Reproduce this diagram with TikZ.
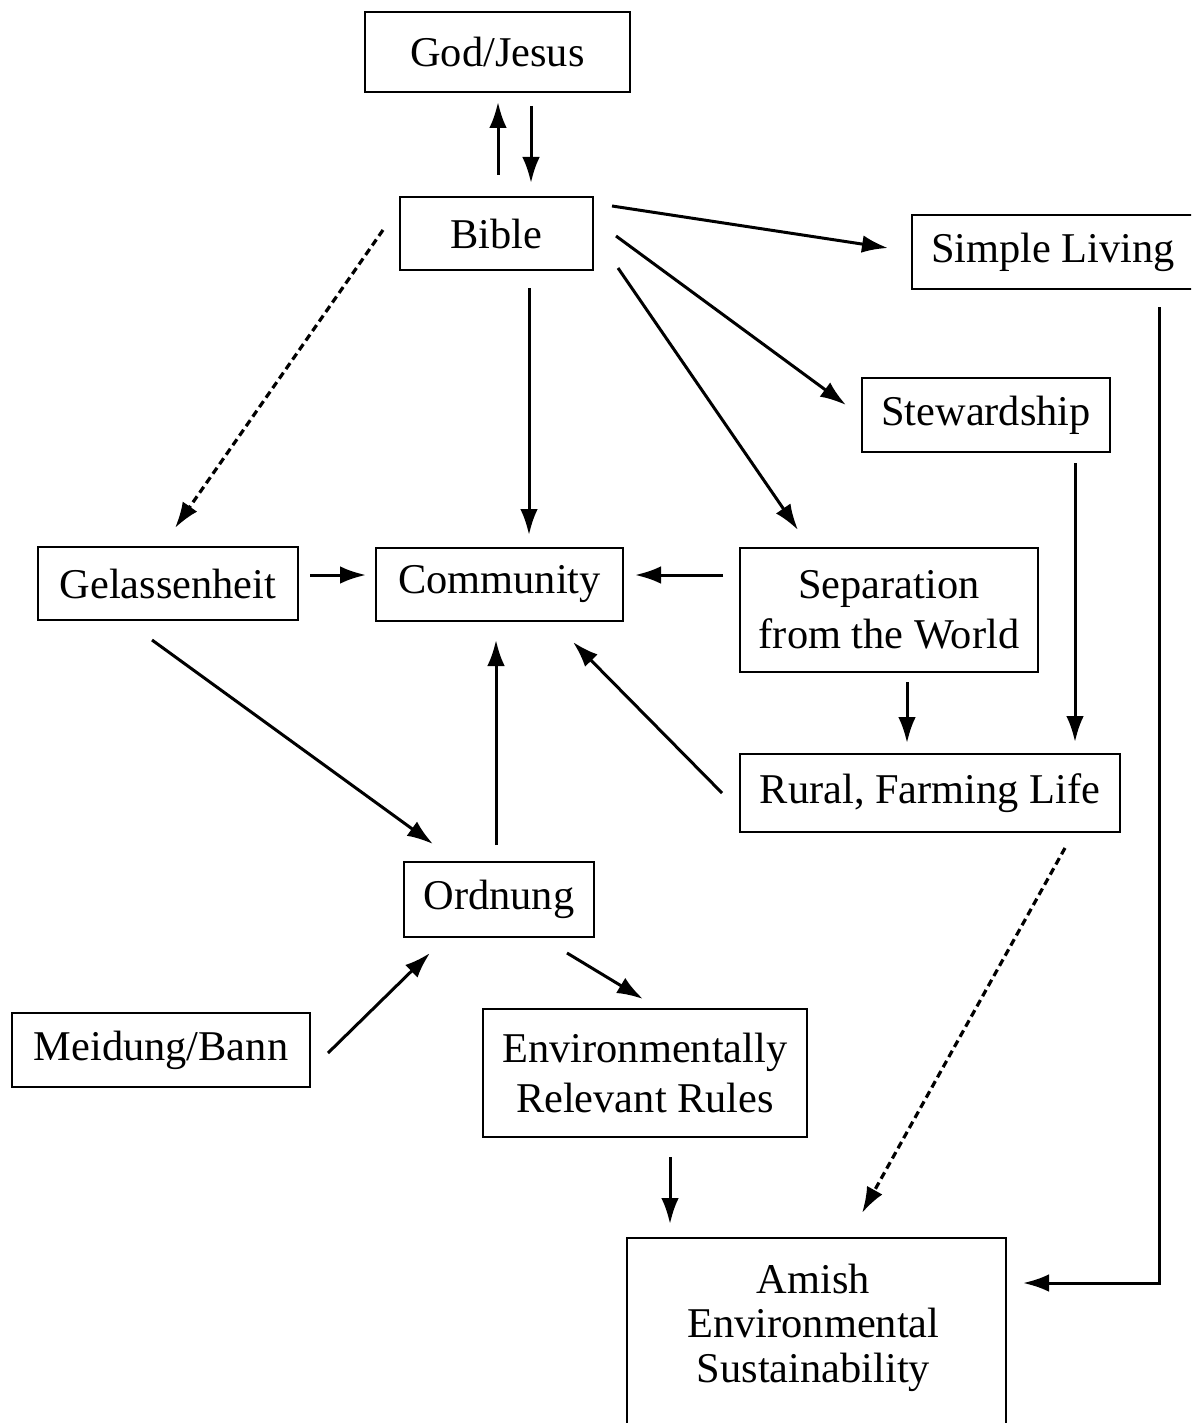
\documentclass[tikz,border=0pt]{standalone}
\usepackage{fontspec}
\setmainfont{Liberation Serif}
\usetikzlibrary{calc,arrows.meta}
\begin{document}
\begin{tikzpicture}[x=0.25pt,y=-0.25pt,
  box/.style={draw, line width=0.55pt, inner sep=0pt, align=center, font=\fontsize{10.6}{12.5}\selectfont},
  arr/.style={line width=0.75pt, -{Latex[length=6.5pt,width=4.4pt]}},
  darr/.style={arr, line width=0.8pt, dash pattern=on 1.8pt off 1.1pt}]
\useasboundingbox (0,0) rectangle (1191,1423);
\clip (0,0) rectangle (1191,1423);
\fill[white] (0,0) rectangle (1191,1423);

\node[box, minimum width=66.25pt, minimum height=20pt] (god) at (497.5,52) {God/Jesus};
\node[box, minimum width=48.25pt, minimum height=18.25pt] (bible) at (496.5,233.5) {Bible};
\node[box, minimum width=70.5pt, minimum height=18.5pt] (simple) at (1053,252) {Simple Living};
\node[box, minimum width=62pt, minimum height=18.5pt] (steward) at (986,415) {Stewardship};
\node[box, minimum width=65pt, minimum height=18.25pt] (gel) at (168,583.5) {Gelassenheit};
\node[box, minimum width=61.75pt, minimum height=18.25pt] (comm) at (499.5,584.5) {Community};
\node[box, minimum width=74.5pt, minimum height=31pt] (sep) at (889,610) {Separation\\from the World};
\node[box, minimum width=95pt, minimum height=19.5pt] (rural) at (930,793) {Rural, Farming Life};
\node[box, minimum width=47.5pt, minimum height=18.75pt] (ord) at (499,899.5) {Ordnung};
\node[box, minimum width=74.5pt, minimum height=18.5pt] (meid) at (161,1050) {Meidung/Bann};
\node[box, minimum width=81pt, minimum height=32pt] (env) at (645,1073) {Environmentally\\Relevant Rules};
\node[draw, line width=0.55pt, inner sep=0pt, minimum width=94.75pt, minimum height=60pt, anchor=north] (amish) at (816.5,1237) {};
\node[anchor=base, inner sep=0pt, align=center, font=\fontsize{10.6}{11.1}\selectfont] (amishtext) at ($(amish.north)+(-3,145)$) {Amish\\Environmental\\Sustainability};

\draw[arr] ($(bible)+(1.5,-58.5)$) -- ($(god)+(0.5,50)$);
\draw[arr] ($(god)+(33.5,54)$) -- ($(bible)+(34.5,-50.5)$);
\draw[arr] ($(bible)+(115.5,-27.5)$) -- ($(simple)+(-165,-4)$);
\draw[arr] ($(bible)+(119.5,2.5)$) -- ($(steward)+(-140,-10)$);
\draw[arr] ($(bible)+(121.5,34.5)$) -- ($(sep)+(-91,-80)$);
\draw[arr] ($(bible)+(32.5,54.5)$) -- ($(comm)+(29.5,-49.5)$);
\draw[darr] ($(bible)+(-113.5,-3.5)$) -- ($(gel)+(7,-55.5)$);
\draw[arr] ($(gel)+(142,-8.5)$) -- ($(comm)+(-133.5,-9.5)$);
\draw[arr] ($(sep)+(-166,-35)$) -- ($(comm)+(135.5,-9.5)$);
\draw[arr] ($(sep)+(18,72)$) -- ($(rural)+(-23,-50)$);
\draw[arr] ($(steward)+(89,48)$) -- ($(rural)+(145,-51)$);
\draw[arr] ($(rural)+(-208,0)$) -- ($(comm)+(73.5,57.5)$);
\draw[arr] ($(gel)+(-16,56.5)$) -- ($(ord)+(-66,-55.5)$);
\draw[arr] ($(ord)+(-3,-54.5)$) -- ($(comm)+(-3.5,55.5)$);
\draw[arr] ($(meid)+(167,3)$) -- ($(ord)+(-69,53.5)$);
\draw[arr] ($(ord)+(68,53.5)$) -- ($(env)+(-2,-74)$);
\draw[arr] ($(env)+(25,84)$) -- ($(amish.north)+(-146.5,-13)$);
\draw[darr] ($(rural)+(135,55)$) -- ($(amish.north)+(45.5,-24)$);
\draw[arr] ($(simple)+(106,55)$) |- ($(amish.north)+(206.5,46)$);
\end{tikzpicture}
\end{document}
